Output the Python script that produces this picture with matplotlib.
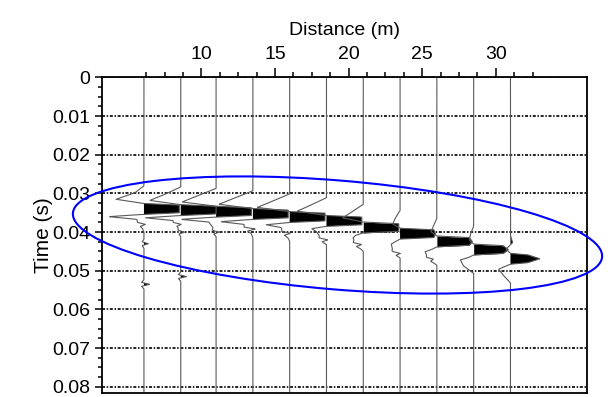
import numpy as np
import matplotlib
matplotlib.use('Agg')
import matplotlib.pyplot as plt
from matplotlib.patches import Ellipse
from matplotlib.ticker import FixedLocator

plt.rcParams['font.family'] = ['Liberation Sans', 'DejaVu Sans']

# receiver positions (m) and time of the strong arrival on each trace (s)
trace_dist = [6.1, 8.6, 11.0, 13.5, 16.0, 18.5, 21.0, 23.5, 26.0, 28.5, 31.0]
arrival_time = [0.0340, 0.0343, 0.0347, 0.0353, 0.0361, 0.0371,
                0.0388, 0.0404, 0.0424, 0.0445, 0.0469]

# wavelet knots relative to the arrival (s); amplitudes in metres of deflection
wavelet_dt = [-0.0060, -0.0042, -0.0025, -0.0014, -0.0010, 0.0,
              0.0010, 0.0014, 0.0020, 0.0027, 0.0042, 0.0062]
wavelet_amp = [
    [0, -0.6, -1.9, 0, 2.4, 2.4, 2.4, 0, -2.4, -0.5, -0.15, 0],
    [0, -1.0, -2.1, 0, 2.4, 2.4, 2.4, 0, -2.4, -0.5, -0.15, 0],
    [0, -1.2, -2.3, 0, 2.4, 2.4, 2.4, 0, -2.4, -0.5, -0.2, 0],
    [0, -1.2, -2.3, 0, 2.4, 2.4, 2.4, 0, -2.2, -0.6, -0.2, 0],
    [0, -1.1, -2.2, 0, 2.4, 2.4, 2.4, 0, -1.6, -0.6, -0.3, 0],
    [0, -1.0, -2.0, 0, 2.4, 2.4, 2.4, 0, -1.0, -0.7, -0.4, 0],
    [0, -0.7, -1.4, 0, 2.4, 2.4, 2.4, 0, -0.5, -0.7, -0.5, 0],
    [0, -0.3, -0.5, 0, 2.3, 2.4, 2.3, 0, -0.3, -0.6, -0.5, 0],
    [0, -0.2, -0.4, 0, 2.2, 2.4, 2.2, 0, -0.3, -0.8, -0.6, 0],
    [0, -0.2, -0.3, 0, 2.0, 2.35, 2.0, 0, -0.3, -0.9, -0.7, 0],
    [0, 0.15, -0.3, 0, 1.2, 2.0, 1.2, 0, -0.4, -0.8, -0.5, 0],
]

# small later events: trace index, time (s), amplitude (m)
small_trace = [0, 0, 0, 1, 1, 1, 2, 3, 4, 5, 6, 7, 8]
small_time = [0.0380, 0.0430, 0.0535, 0.0380, 0.0400, 0.0515, 0.0400,
              0.0392, 0.0403, 0.0420, 0.0432, 0.0455, 0.0470]
small_amp = [0.3, 0.3, 0.4, 0.3, 0.3, 0.4, 0.3, 0.45, 0.35, 0.35, 0.35, 0.3, 0.25]
small_dt = [-0.0012, -0.0005, 0.0, 0.0005, 0.0012]
small_shape = [0, -0.4, 1.0, -0.4, 0]

time_ticks = [0, 0.01, 0.02, 0.03, 0.04, 0.05, 0.06, 0.07, 0.08]
time_labels = ['0', '0.01', '0.02', '0.03', '0.04', '0.05', '0.06', '0.07', '0.08']
dist_ticks = [10, 15, 20, 25, 30]

fig = plt.figure(figsize=(6.13, 3.97), dpi=100)
ax = fig.add_axes([0.1664, 0.0093, 0.7912, 0.7955])

t = np.linspace(0, 0.0817, 1500)
for i, x0 in enumerate(trace_dist):
    w = np.interp(t, arrival_time[i] + np.array(wavelet_dt), wavelet_amp[i],
                  left=0, right=0)
    for k, tr in enumerate(small_trace):
        if tr == i:
            w = w + np.interp(t, small_time[k] + np.array(small_dt),
                              small_amp[k] * np.array(small_shape), left=0, right=0)
    ax.fill_betweenx(t, x0, x0 + w, where=w > 0, color='k', lw=0, interpolate=True)
    ax.plot(x0 + w, t, color='0.35', lw=0.8)

ax.set_xlim(3.25, 36.2)
ax.set_ylim(0.0817, 0)

ax.xaxis.tick_top()
ax.xaxis.set_major_locator(FixedLocator(dist_ticks))
ax.xaxis.set_minor_locator(FixedLocator(np.arange(6.25, 32.6, 1.25)))
ax.set_yticks(time_ticks)
ax.set_yticklabels(time_labels)
ax.yaxis.set_minor_locator(FixedLocator(np.arange(0, 0.0801, 0.0025)))
ax.tick_params(axis='x', which='major', direction='out', length=6.7, width=1.1,
               pad=4.0, labelsize=14, top=True, bottom=False)
ax.tick_params(axis='x', which='minor', direction='out', length=3.6, width=1.1,
               top=True, bottom=False)
ax.tick_params(axis='y', which='major', direction='out', length=5.3, width=1.1,
               pad=3.0, labelsize=14, left=True, right=False)
ax.tick_params(axis='y', which='minor', direction='out', length=3.1, width=1.1,
               left=True, right=False)
for sp in ax.spines.values():
    sp.set_linewidth(1.3)

ax.grid(axis='y', which='major', color='k', lw=1.2,
        linestyle=(0, (1.8, 1.0, 0.9, 1.0)))

ax.set_xlabel('Distance (m)', fontsize=14)
ax.xaxis.set_label_position('top')
ax.xaxis.set_label_coords(0.5, 1.15)
ax.xaxis.label.set_va('center')
ax.set_ylabel('Time (s)', fontsize=15)
ax.yaxis.set_label_coords(-0.12, 0.5)
ax.yaxis.label.set_va('center')

ring = Ellipse((3.375, 1.62), 5.31, 1.09, angle=-4.75, fill=False,
               edgecolor='#0000ff', lw=1.5, transform=fig.dpi_scale_trans,
               clip_on=False, zorder=10)
fig.add_artist(ring)

fig.savefig('out.png', dpi=100)
